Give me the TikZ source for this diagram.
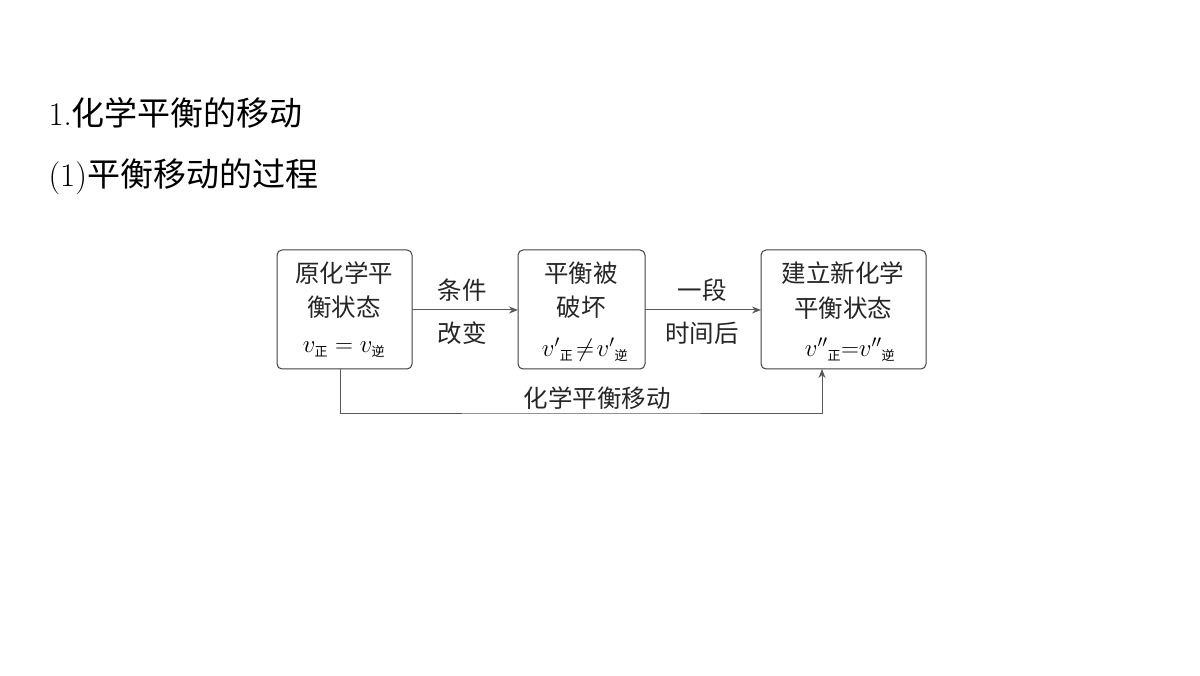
\documentclass[tikz,border=0pt]{standalone}
\usepackage{fontspec}
\usetikzlibrary{arrows.meta}
\newfontfamily\cjk{Noto Sans CJK SC}
\begin{document}
\begin{tikzpicture}[x=1pt,y=-1pt,
 box/.style={draw=black!75,line width=1pt,rounded corners=5pt},
 lbl/.style={font=\cjk\fontsize{24.5}{28}\selectfont,text=black!85},
 arr/.style={draw=black!65,line width=1pt,-{Stealth[length=9pt,width=7pt]}},
 mth/.style={font=\fontsize{23}{26}\selectfont}]
\useasboundingbox[fill=white] (0,0) rectangle (1200,676);
\node[anchor=west,font=\fontsize{33}{36}\selectfont] (t1) at (45,113) {1.{\cjk 化学平衡的移动}};
\node[anchor=west,font=\fontsize{33}{36}\selectfont] (t2) at (45,177) {(1){\cjk 平衡移动的过程}};
\draw[box] (277,250) rectangle (412,369);
\draw[box] (518,250) rectangle (645,369);
\draw[box] (761,250) rectangle (926,369);
\coordinate (b1r) at (412,310); \coordinate (b2l) at (518,310);
\coordinate (b2r) at (645,310); \coordinate (b3l) at (761,310);
\coordinate (b1b) at (340,369); \coordinate (b3b) at (822,369);
\node[lbl] (a1) at (344,273) {原化学平};
\node[lbl] (a2) at (344,307) {衡状态};
\node[mth] (a3) at (344,350) {$v_{\mbox{\cjk\fontsize{13}{13}\selectfont 正}}=v_{\mbox{\cjk\fontsize{13}{13}\selectfont 逆}}$};
\node[lbl] (c1) at (581,273) {平衡被};
\node[lbl] (c2) at (581,307) {破坏};
\node[mth] (c3) at (585,350) {$v'{}_{\mbox{\cjk\fontsize{13}{13}\selectfont 正}}\!\neq\! v'{}_{\mbox{\cjk\fontsize{13}{13}\selectfont 逆}}$};
\node[lbl] (d1) at (843,273) {建立新化学};
\node[lbl] (d2) at (843,308) {平衡状态};
\node[mth] (d3) at (850,350) {$v''{}_{\mbox{\cjk\fontsize{13}{13}\selectfont 正}}{=}v''{}_{\mbox{\cjk\fontsize{13}{13}\selectfont 逆}}$};
\node[lbl] (e1) at (462,290) {条件};
\node[lbl] (e2) at (462,333) {改变};
\node[lbl] (f1) at (702,290) {一段};
\node[lbl] (f2) at (702,333) {时间后};
\node[lbl] (g) at (597,398) {化学平衡移动};
\draw[arr] (b1r) -- (b2l);
\draw[arr] (b2r) -- (b3l);
\draw[arr] (b1b) |- (581,413) -| (b3b);
\end{tikzpicture}
\end{document}
